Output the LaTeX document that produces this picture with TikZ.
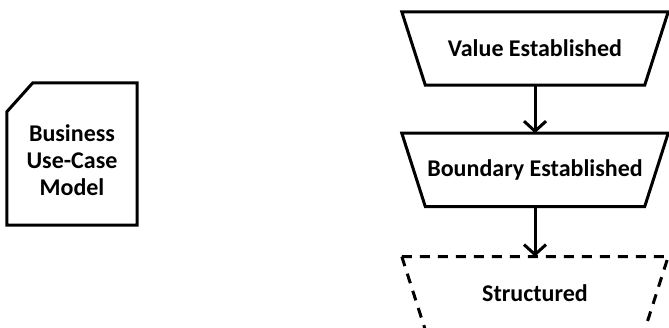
\documentclass[tikz,border=0pt]{standalone}
\usepackage{fontspec}
\setmainfont{Carlito}
\usepackage{tikz}
\usetikzlibrary{arrows.meta,positioning,calc}

\begin{document}
\begin{tikzpicture}[x=1pt,y=-1pt,>={Straight Barb[length=10pt,width=22pt,line width=3pt]},
    state/.style={minimum width=219pt,minimum height=73pt,inner sep=0pt,
      font=\fontsize{24}{28}\selectfont\bfseries},
    frame/.style={line width=3pt,line join=miter},
    pending/.style={dash pattern=on 10pt off 8pt},
    flow/.style={->,line width=3pt}]
  % page is the 669 x 327 canvas, the last state runs past its lower edge
  \useasboundingbox (0,0) rectangle (669,327);
  \clip (0,0) rectangle (669,327);
  % document on the left, cut corner at top left
  \node[minimum width=130pt,minimum height=142pt,inner sep=0pt] (model) at (72,154) {};
  \draw[frame] ($(model.north west)+(0,29)$) -- ($(model.north west)+(26,0)$)
    -- (model.north east) -- (model.south east) -- (model.south west) -- cycle;
  \node[align=center,font=\fontsize{24}{27}\selectfont\bfseries]
    (modeltext) at ([yshift=-6pt]model.center) {Business\\Use-Case\\Model};
  % states, top to bottom
  \node[state] (value) at (535,48.5) {Value Established};
  \node[state,below=48pt of value] (boundary) {Boundary Established};
  \node[state,below=50pt of boundary] (structured) {Structured};
  % trapezia, wide side up
  \foreach \s/\pat in {value/solid, boundary/solid, structured/pending} {
    \draw[frame,\pat] ($(\s.north west)+(-23.5,0)$) -- ($(\s.north east)+(23.5,0)$)
      -- (\s.south east) -- (\s.south west) -- cycle;
  }
  \draw[flow] (value) -- (boundary);
  \draw[flow] (boundary) -- (structured);
\end{tikzpicture}
\end{document}
